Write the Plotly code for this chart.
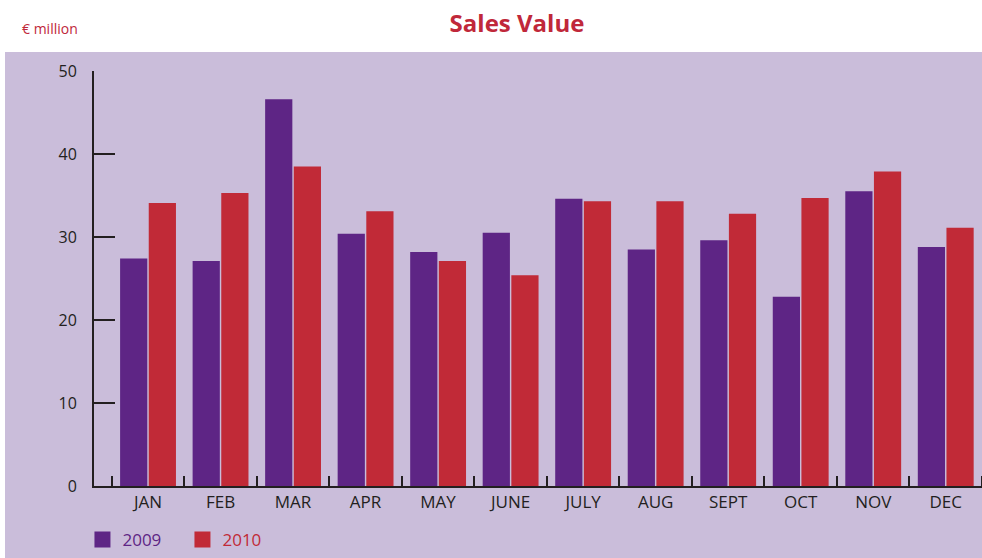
import plotly.graph_objects as go

months = ["JAN", "FEB", "MAR", "APR", "MAY", "JUNE", "JULY", "AUG", "SEPT", "OCT", "NOV", "DEC"]
sales_2009 = [27.4, 27.1, 46.6, 30.4, 28.2, 30.5, 34.6, 28.5, 29.6, 22.8, 35.5, 28.8]
sales_2010 = [34.1, 35.3, 38.5, 33.1, 27.1, 25.4, 34.3, 34.3, 32.8, 34.7, 37.9, 31.1]
y_ticks = [0, 10, 20, 30, 40, 50]

PURPLE = "#5e2585"
RED = "#c12a37"
LAVENDER = "#cabdda"
INK = "#231f20"
FONT = "Open Sans"

W, H = 982, 558
L, T = 94, 71
PW, PH = 888, 415
B = H - T - PH

x_pos = list(range(len(months)))

fig = go.Figure()
fig.add_trace(go.Bar(x=x_pos, y=sales_2009, name="2009", marker=dict(color=PURPLE, line=dict(width=0)),
                     showlegend=False))
fig.add_trace(go.Bar(x=x_pos, y=sales_2010, name="2010", marker=dict(color=RED, line=dict(width=0)),
                     showlegend=False))
# legend entries
fig.add_trace(go.Scatter(x=[None], y=[None], mode="markers", name=f"<span style='color:{PURPLE}'>2009</span>",
                         marker=dict(symbol="square", size=20, color=PURPLE)))
fig.add_trace(go.Scatter(x=[None], y=[None], mode="markers", name=f"<span style='color:{RED}'>2010</span>",
                         marker=dict(symbol="square", size=20, color=RED)))

fig.update_layout(
    width=W, height=H,
    margin=dict(l=L, r=0, t=T, b=B),
    paper_bgcolor="white",
    plot_bgcolor="rgba(0,0,0,0)",
    font=dict(family=FONT, size=16, color=INK),
    barmode="group",
    bargap=0.21,
    bargroupgap=0.05,
    title=dict(text="<b>Sales Value</b>", font=dict(family=FONT, size=24, color="#c0283a"),
               x=517 / W, xanchor="center", xref="container",
               y=1 - 24 / H, yanchor="middle", yref="container"),
    legend=dict(orientation="h", x=-0.013, xanchor="left", y=(T + PH - 540) / PH, yanchor="middle",
                font=dict(size=17), itemsizing="trace", bgcolor="rgba(0,0,0,0)",
                entrywidth=55, entrywidthmode="pixels"),
    xaxis=dict(
        range=[-0.745, 11.5], tickmode="array", tickvals=x_pos, ticktext=months,
        ticks="", showgrid=False, zeroline=False, showline=True, linecolor=INK, linewidth=2,
        tickfont=dict(size=17, color=INK),
        minor=dict(ticks="inside", tick0=0.5, dtick=1, ticklen=10, tickwidth=2, tickcolor=INK, showgrid=False),
    ),
    yaxis=dict(
        range=[0, 50], tickmode="array", tickvals=y_ticks, ticks="inside", ticklen=21, tickwidth=2,
        tickcolor=INK, showgrid=False, zeroline=False, showline=True, linecolor=INK, linewidth=2,
        tickfont=dict(size=16, color=INK), ticklabelstandoff=12,
    ),
    shapes=[dict(type="rect", xref="paper", yref="paper", x0=(5 - L) / PW, x1=1.0,
                 y0=-B / PH, y1=(T + PH - 52) / PH, fillcolor=LAVENDER,
                 line=dict(width=0), layer="below")],
    annotations=[dict(text="€ million", xref="paper", yref="paper", x=(20 - L) / PW, xanchor="left",
                      y=(T + PH - 29) / PH, yanchor="middle", showarrow=False,
                      font=dict(family=FONT, size=14, color="#c0283a"))],
)

fig.write_html("out.html", config={"displayModeBar": False},
               post_script="document.body.style.margin='0px';document.body.style.overflow='hidden';")
